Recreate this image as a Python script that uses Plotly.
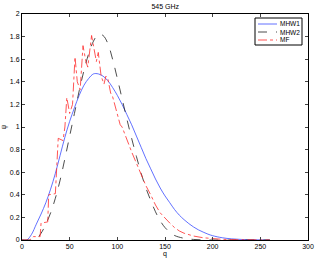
import plotly.graph_objects as go

# MHW1 (blue solid)
x_mhw1 = [0, 5, 10, 15, 20, 25, 30, 35, 40, 45, 50, 55, 60, 65, 70, 75, 80, 85, 90, 95,
          100, 105, 110, 115, 120, 125, 130, 135, 140, 145, 150, 155, 160, 165, 170, 175,
          180, 185, 190, 195, 200, 210, 220, 230, 240, 250, 260]
y_mhw1 = [0, 0.0, 0.05, 0.14, 0.23, 0.33, 0.45, 0.59, 0.75, 0.91, 1.05, 1.17, 1.28, 1.37,
          1.43, 1.47, 1.47, 1.45, 1.41, 1.35, 1.28, 1.20, 1.11, 1.02, 0.92, 0.82, 0.72,
          0.63, 0.54, 0.46, 0.39, 0.33, 0.27, 0.22, 0.18, 0.145, 0.115, 0.09, 0.07,
          0.052, 0.038, 0.02, 0.01, 0.005, 0.002, 0.001, 0]

# MHW2 (black dashed)
x_mhw2 = [0, 10, 15, 20, 25, 30, 35, 40, 45, 50, 55, 60, 65, 70, 75, 80, 85, 90, 95, 100,
          105, 110, 115, 120, 125, 130, 135, 140, 145, 150, 155, 160, 170, 180, 190, 200, 260]
y_mhw2 = [0, 0, 0.01, 0.06, 0.14, 0.24, 0.37, 0.53, 0.72, 0.92, 1.12, 1.32, 1.50, 1.65,
          1.76, 1.82, 1.81, 1.74, 1.60, 1.43, 1.25, 1.07, 0.90, 0.74, 0.59, 0.46, 0.35,
          0.25, 0.17, 0.11, 0.07, 0.04, 0.015, 0.005, 0.001, 0, 0]

# MF (red dash-dot)
x_mf = [0, 8, 12, 19, 20, 27, 28, 35, 38, 43, 45, 47, 50, 53, 55.6, 58, 61, 64, 67, 69,
        73, 76, 78, 80, 83, 86, 88, 90, 93, 95, 97, 100, 103, 105, 108, 110, 115, 120,
        125, 130, 135, 140, 145, 150, 155, 160, 165, 170, 180, 190, 200, 210, 220, 230,
        250, 260]
y_mf = [0, 0, 0.03, 0.03, 0.15, 0.16, 0.40, 0.41, 0.90, 0.88, 1.0, 1.26, 1.12, 1.20,
        1.62, 1.40, 1.33, 1.72, 1.58, 1.53, 1.81, 1.68, 1.58, 1.66, 1.45, 1.38, 1.45,
        1.43, 1.30, 1.27, 1.21, 1.10, 1.02, 1.00, 0.93, 0.88, 0.78, 0.68, 0.58, 0.48,
        0.40, 0.31, 0.24, 0.19, 0.15, 0.11, 0.08, 0.06, 0.035, 0.02, 0.012, 0.006,
        0.003, 0.001, 0, 0]

series_names = ["MHW1", "MHW2", "MF"]
series_colors = ["#3a4cff", "#202020", "#ff2a2a"]
series_dash = ["solid", "dash", "dashdot"]

x_ticks = [0, 50, 100, 150, 200, 250, 300]
y_ticks = [0, 0.2, 0.4, 0.6, 0.8, 1, 1.2, 1.4, 1.6, 1.8, 2]
y_tick_labels = ["0", "0.2", "0.4", "0.6", "0.8", "1", "1.2", "1.4", "1.6", "1.8", "2"]

fig = go.Figure()
for xs, ys, nm, col, dsh, shp in zip([x_mhw1, x_mhw2, x_mf], [y_mhw1, y_mhw2, y_mf],
                                     series_names, series_colors, series_dash,
                                     ["spline", "spline", "linear"]):
    fig.add_trace(go.Scatter(x=xs, y=ys, mode="lines", name=nm, showlegend=False,
                             line=dict(color=col, width=0.8, dash=dsh, shape=shp)))

# compact MATLAB-style legend (paper coordinates of the plot area)
W, H, L, T = 286.0, 226.0, 22.0, 14.0
def px(xp):
    return (xp - L) / W
def py(yp):
    return (T + H - yp) / H

shapes = [dict(type="rect", xref="paper", yref="paper", x0=px(255), x1=px(302),
               y0=py(45), y1=py(18), line=dict(color="black", width=1),
               fillcolor="white", layer="above")]
annotations = []
for i, (nm, col, dsh) in enumerate(zip(series_names, series_colors, series_dash)):
    yy = py(24 + 8 * i)
    shapes.append(dict(type="line", xref="paper", yref="paper", x0=px(258), x1=px(277),
                       y0=yy, y1=yy, line=dict(color=col, width=0.8, dash=dsh), layer="above"))
    annotations.append(dict(xref="paper", yref="paper", x=px(277.5), y=yy, text=nm,
                            showarrow=False, xanchor="left", yanchor="middle",
                            font=dict(size=6.5, color="black")))

font = "Liberation Sans, Arial, sans-serif"
fig.update_layout(
    width=316, height=259,
    margin=dict(l=22, r=8, t=14, b=19, autoexpand=False),
    paper_bgcolor="white", plot_bgcolor="white",
    font=dict(family=font, size=7, color="black"),
    title=dict(text="545 GHz", x=0.523, xanchor="center", y=0.975, yanchor="middle",
               font=dict(size=7)),
    showlegend=False,
    shapes=shapes,
    annotations=annotations,
    xaxis=dict(range=[0, 300], tickvals=x_ticks, ticks="inside", ticklen=3,
               showline=True, linecolor="black", linewidth=1, mirror="ticks",
               showgrid=False, zeroline=False, automargin=False,
               title=dict(text="q", standoff=1, font=dict(size=7))),
    yaxis=dict(range=[0, 2], tickvals=y_ticks, ticktext=y_tick_labels, ticks="inside",
               ticklen=3, showline=True, linecolor="black", linewidth=1, mirror="ticks",
               showgrid=False, zeroline=False, automargin=False,
               title=dict(text="ψ", standoff=5, font=dict(size=7))),
)
fig.write_html("out.html", config={"displayModeBar": False},
               post_script="document.body.style.margin='0';document.body.style.overflow='hidden';")
